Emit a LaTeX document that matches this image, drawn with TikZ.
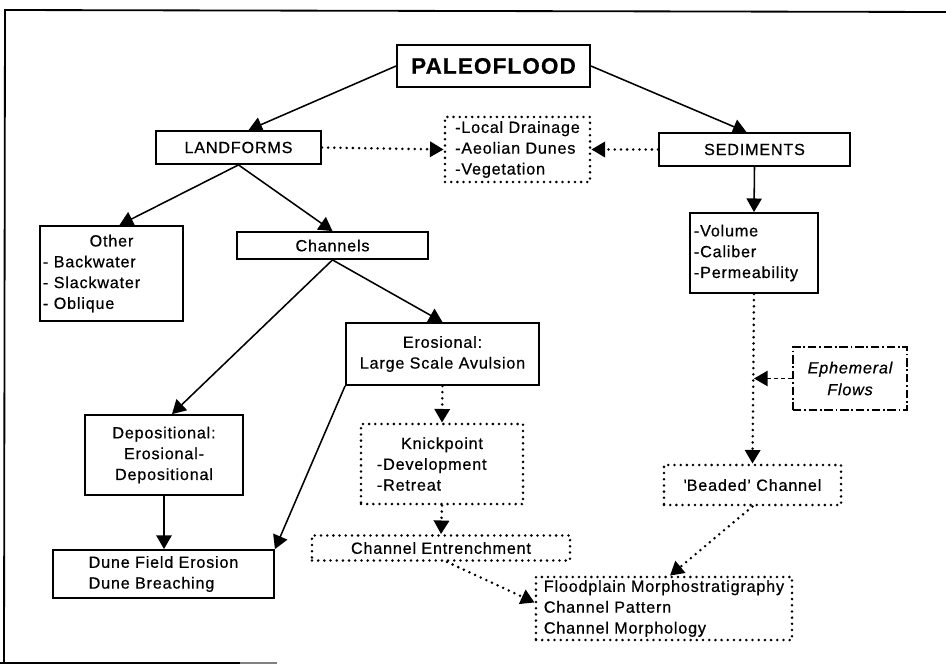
\documentclass[tikz,border=0pt]{standalone}
\usepackage{fontspec}
\setmainfont{Liberation Sans}[LetterSpace=5, FakeBold=0.6]
\usetikzlibrary{arrows.meta}

\begin{document}
\begin{tikzpicture}[
  x=0.025cm, y=-0.025cm,
  font=\fontsize{11.5}{14.8}\selectfont,
  solidbox/.style={draw, line width=1.3pt, inner sep=0pt, align=center},
  topbox/.style={solidbox, font=\fontsize{16}{18}\selectfont\bfseries},
  dotbox/.style={draw, line width=2pt, line cap=round, dash pattern=on 0pt off 4.4pt,
                 inner sep=0pt, align=center},
  dashbox/.style={draw, line width=1.3pt, dash pattern=on 6pt off 2pt on 1.2pt off 2pt,
                  inner sep=0pt, align=center, font=\fontsize{11.5}{15.5}\selectfont\itshape},
  arr/.style={-{Triangle[length=0.34cm, width=0.38cm]}, line width=1.1pt},
  dotarr/.style={arr, line width=2pt, line cap=round, dash pattern=on 0pt off 4.4pt},
  dasharr/.style={arr, line width=1.3pt, dash pattern=on 3pt off 2pt},
]
\useasboundingbox (0,0) rectangle (946,664);

% === Frame ===
\draw[line width=1.3pt] (946,12) -- (5,10) -- (4,663);
\draw[line width=1.6pt] (0,663) -- (240,663);
\draw[line width=1.6pt, gray] (240,663) -- (277,663);

% === Nodes ===

% Top level
\node[topbox, minimum width=4.825cm, minimum height=1.05cm] (flood) at (493.5,66) {PALEOFLOOD};
\node[solidbox, minimum width=4.125cm, minimum height=0.825cm] (land) at (238.5,147.5) {LANDFORMS};
\node[dotbox, minimum width=3.625cm, minimum height=1.625cm, align=left] (local) at (517.5,149.5)
  {-Local Drainage\\-Aeolian Dunes\\-Vegetation};
\node[solidbox, minimum width=4.775cm, minimum height=0.825cm] (sed) at (754.5,149.5) {SEDIMENTS};

% Landforms branch
\node[solidbox, minimum width=3.575cm, minimum height=2.375cm, text width=3.425cm,
      inner xsep=0.075cm, align=left] (other) at (111.5,273.5)
  {\hfill Other\hfill\null\\- Backwater\\- Slackwater\\- Oblique};
\node[solidbox, minimum width=4.775cm, minimum height=0.675cm] (chan) at (332.5,245.5) {Channels};
\node[solidbox, minimum width=4.825cm, minimum height=1.55cm] (eros) at (442.5,354)
  {Erosional:\\Large Scale Avulsion};
\node[solidbox, minimum width=3.95cm, minimum height=2cm] (dep) at (164,455)
  {Depositional:\\Erosional-\\Depositional};
\node[dotbox, minimum width=4.05cm, minimum height=2cm, text width=3.25cm,
      inner xsep=0.4cm, align=left] (knick) at (442,464)
  {\hfill Knickpoint\hfill\null\\-Development\\-Retreat};
\node[solidbox, minimum width=5.525cm, minimum height=1.2cm, align=left] (dune) at (163.5,574)
  {Dune Field Erosion\\Dune Breaching};
\node[dotbox, minimum width=6.45cm, minimum height=0.625cm] (entr) at (441,548) {Channel Entrenchment};

% Sediments branch
\node[solidbox, minimum width=3.2cm, minimum height=2cm, text width=3cm,
      inner xsep=0.1cm, align=left] (sedprop) at (754,253)
  {-Volume\\-Caliber\\-Permeability};
\node[dashbox, minimum width=2.85cm, minimum height=1.575cm] (ephem) at (850,378.5) {Ephemeral\\Flows};
\node[dotbox, minimum width=4.425cm, minimum height=1cm] (bead) at (752.5,485)
  {{\textquotesingle}Beaded' Channel};

% Result
\node[dotbox, minimum width=6.4cm, minimum height=1.575cm, align=left] (morph) at (664,608.5)
  {Floodplain Morphostratigraphy\\Channel Pattern\\Channel Morphology};

\coordinate (join) at (sedprop.south |- ephem.west);

% === Arrows ===
\draw[arr] (flood.west) -- ([xshift=0.25cm]land.north);
\draw[arr] (flood.east) -- ([xshift=-0.2cm]sed.north);
\draw[dotarr] (land.east) -- (local.west);
\draw[dotarr] (sed.west) -- (local.east);

\draw[arr] (land.south) -- ([xshift=0.2cm]other.north);
\draw[arr] (land.south) -- (chan.north);
\draw[arr] (chan.south) -- ([xshift=0.2cm]dep.north);
\draw[arr] (chan.south) -- (eros.north);
\draw[arr] (eros.south west) -- (dune.north east);
\draw[arr] (dep.south) -- (dep.south |- dune.north);
\draw[dotarr] (eros.south) -- (knick.north);
\draw[dotarr] (knick.south) -- (entr.north);
\draw[dotarr] ([xshift=0.15cm]entr.south) -- ([yshift=0.15cm]morph.west);

\draw[arr] (sed.south) -- (sedprop.north);
\draw[dotarr] (sedprop.south) -- (bead.north);
\draw[dasharr] (ephem.west) -- (join);
\draw[dotarr] (bead.south) -- ([xshift=0.15cm]morph.north);

\end{tikzpicture}
\end{document}
